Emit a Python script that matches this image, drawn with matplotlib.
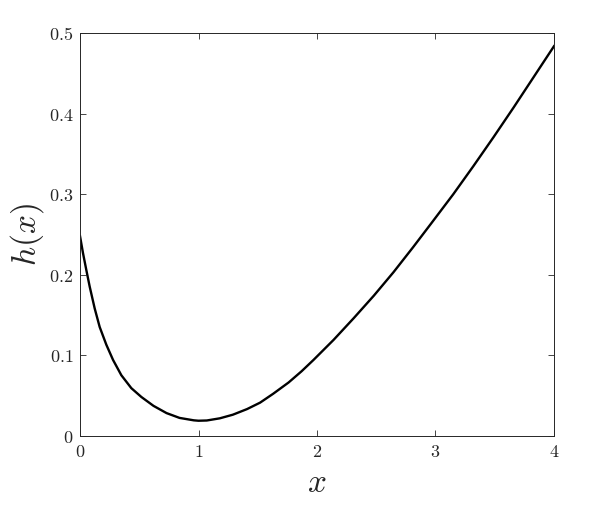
import numpy as np
import matplotlib
matplotlib.use("Agg")
import matplotlib.pyplot as plt
from matplotlib.ticker import FuncFormatter

# values
x_vals = [0.0, 0.025, 0.053, 0.082, 0.124, 0.166, 0.222, 0.279, 0.349, 0.433,
          0.518, 0.62, 0.73, 0.84, 0.96, 1.0, 1.07, 1.18, 1.29, 1.41,
          1.52, 1.63, 1.76, 1.87, 1.97, 2.14, 2.31, 2.48, 2.645, 2.81,
          2.96, 3.15, 3.32, 3.49, 3.66, 3.83, 4.0]
h_vals = [0.248, 0.227, 0.206, 0.185, 0.158, 0.135, 0.113, 0.094, 0.075, 0.059,
          0.048, 0.037, 0.028, 0.022, 0.019, 0.0185, 0.0188, 0.0215, 0.026, 0.033,
          0.041, 0.052, 0.066, 0.080, 0.094, 0.119, 0.146, 0.174, 0.203, 0.234,
          0.263, 0.300, 0.335, 0.371, 0.408, 0.446, 0.484]

x_ticks = [0, 1, 2, 3, 4]
y_ticks = [0, 0.1, 0.2, 0.3, 0.4, 0.5]

plt.rcParams['mathtext.fontset'] = 'cm'
axis_gray = '#262626'

fig = plt.figure(figsize=(5.98, 5.05), dpi=100)
ax = fig.add_axes([0.1338, 0.1374, 0.7926, 0.7966])

ax.plot(x_vals, h_vals, color='black', linewidth=1.7, solid_joinstyle='round')

ax.set_xlim(0, 4)
ax.set_ylim(0, 0.5)
ax.set_xticks(x_ticks)
ax.set_yticks(y_ticks)
ax.xaxis.set_major_formatter(FuncFormatter(lambda v, p: '$%g$' % v))
ax.yaxis.set_major_formatter(FuncFormatter(lambda v, p: '$%g$' % v))

ax.tick_params(direction='in', top=True, right=True, length=4, width=0.6,
               color=axis_gray, labelcolor=axis_gray, labelsize=13, pad=5)
for s in ax.spines.values():
    s.set_color(axis_gray)
    s.set_linewidth(0.7)

ax.set_xlabel('$x$', fontsize=24, color=axis_gray, labelpad=4)
ax.set_ylabel('$h(x)$', fontsize=24, color=axis_gray, labelpad=2)

fig.savefig('out.png', dpi=100)
